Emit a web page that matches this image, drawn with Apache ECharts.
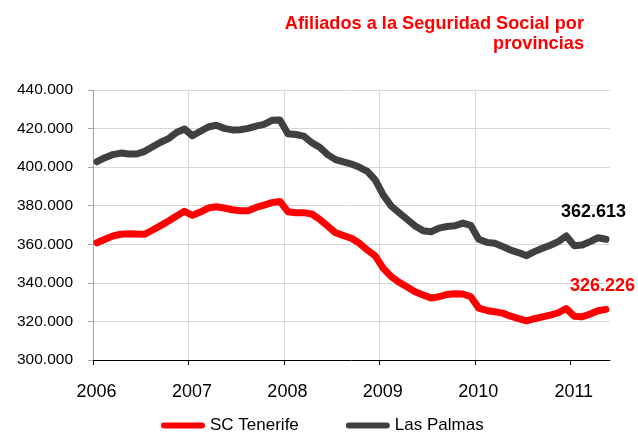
<!DOCTYPE html>
<html>
<head>
<meta charset="utf-8">
<script src="https://cdn.jsdelivr.net/npm/echarts@6/dist/echarts.min.js"></script>
<style>
  html, body { margin: 0; padding: 0; background: #fff; }
  #root { width: 638px; height: 441px; }
</style>
</head>
<body>
<div id="root"></div>
<script>
// Monthly affiliates, Jan 2006 .. May 2011
const years = [2006, 2007, 2008, 2009, 2010, 2011];
const yTicks = [300000, 320000, 340000, 360000, 380000, 400000, 420000, 440000];

const scTenerife = [
  360800, 362600, 364300, 365200, 365500, 365300, 365200, 367400, 369700, 372100,
  374700, 377100, 375000, 376700, 378800, 379500, 378800, 377900, 377400, 377400,
  379100, 380300, 381600, 382200, 376900, 376400, 376400, 375700, 372900, 369500,
  366000, 364500, 363100, 360500, 357000, 353900, 347500, 343200, 340300, 337800,
  335400, 333700, 332100, 332800, 334000, 334400, 334200, 332800, 326900, 325700,
  325000, 324300, 322700, 321500, 320300, 321400, 322400, 323300, 324500, 326700,
  322700, 322400, 323800, 325500, 326226
];
const lasPalmas = [
  402800, 404900, 406500, 407300, 406800, 406800, 408200, 410600, 412900, 414800,
  418000, 419800, 416300, 418600, 420800, 421700, 420100, 419300, 419400, 420100,
  421300, 422200, 424300, 424400, 417300, 416900, 416100, 412700, 410300, 406500,
  403900, 402700, 401600, 399900, 397800, 393300, 385500, 379800, 376300, 372900,
  369500, 367000, 366500, 368400, 369200, 369600, 371000, 369800, 362600, 361000,
  360500, 358800, 357000, 355700, 354100, 356200, 357900, 359500, 361400, 364300,
  359300, 359600, 361400, 363400, 362613
];

const FONT = '"Liberation Sans", Arial, sans-serif';
// thick line with round ends for the legend
const LEGEND_ICON = 'path://M3,0 H41 A3,3 0 0 1 41,6 H3 A3,3 0 0 1 3,0 Z';

// points sit in the middle of each month
const toPoints = (arr) => arr.map((v, i) => [i + 0.5, v]);
const fmtThousands = (v) => Math.floor(v / 1000) + '.' + String(v % 1000).padStart(3, '0');
const yearTicks = years.map((y, i) => i * 12);

const chart = echarts.init(document.getElementById('root'), null, { renderer: 'canvas' });

chart.setOption({
  backgroundColor: '#ffffff',
  animation: false,
  title: {
    text: 'Afiliados a la Seguridad Social por\nprovincias',
    left: 579,
    top: 9,
    textAlign: 'right',
    textStyle: {
      color: '#ff0000',
      fontFamily: FONT,
      fontWeight: 'bold',
      fontSize: 18.2,
      lineHeight: 20
    }
  },
  grid: { left: 93, right: 28, top: 90, bottom: 81 },
  legend: {
    top: 412,
    left: 156,
    itemWidth: 44,
    itemHeight: 6,
    itemGap: 47,
    textStyle: { fontFamily: FONT, fontSize: 17, color: '#000' },
    data: [
      { name: 'SC Tenerife', icon: LEGEND_ICON },
      { name: 'Las Palmas', icon: LEGEND_ICON }
    ]
  },
  xAxis: {
    type: 'value',
    min: 0,
    max: 65,
    interval: 12,
    axisLine: { lineStyle: { color: '#000', width: 1 } },
    axisTick: { show: true, length: 5, lineStyle: { color: '#000' }, customValues: yearTicks },
    axisLabel: {
      margin: 23,
      fontFamily: FONT,
      fontSize: 18,
      color: '#000',
      padding: [0, 0, 0, 7],
      customValues: yearTicks,
      formatter: (v) => (v % 12 === 0 ? String(years[v / 12]) : '')
    },
    splitLine: { show: true, showMinLine: false, showMaxLine: false, lineStyle: { color: '#d9d9d9', width: 1 } }
  },
  yAxis: {
    type: 'value',
    min: yTicks[0],
    max: yTicks[yTicks.length - 1],
    interval: 20000,
    axisLine: { show: true, lineStyle: { color: '#a6a6a6', width: 1 } },
    axisTick: { show: true, length: 5, lineStyle: { color: '#a6a6a6' } },
    axisLabel: {
      margin: 20,
      fontFamily: FONT,
      fontSize: 15.5,
      color: '#000',
      formatter: (v) => fmtThousands(v)
    },
    splitLine: { show: true, lineStyle: { color: '#d9d9d9', width: 1 } }
  },
  series: [
    {
      name: 'SC Tenerife',
      type: 'line',
      data: toPoints(scTenerife),
      showSymbol: false,
      symbol: 'none',
      lineStyle: { color: '#ff0000', width: 7, cap: 'round', join: 'round' },
      itemStyle: { color: '#ff0000' },
      endLabel: {
        show: true,
        distance: 0,
        offset: [-36, -23],
        formatter: (p) => fmtThousands(p.value[1]),
        fontFamily: FONT,
        fontWeight: 'bold',
        fontSize: 18,
        color: '#ff0000'
      }
    },
    {
      name: 'Las Palmas',
      type: 'line',
      data: toPoints(lasPalmas),
      showSymbol: false,
      symbol: 'none',
      lineStyle: { color: '#404040', width: 7, cap: 'round', join: 'round' },
      itemStyle: { color: '#404040' },
      endLabel: {
        show: true,
        distance: 0,
        offset: [-45, -27],
        formatter: (p) => fmtThousands(p.value[1]),
        fontFamily: FONT,
        fontWeight: 'bold',
        fontSize: 18,
        color: '#000'
      }
    }
  ]
});
</script>
</body>
</html>
